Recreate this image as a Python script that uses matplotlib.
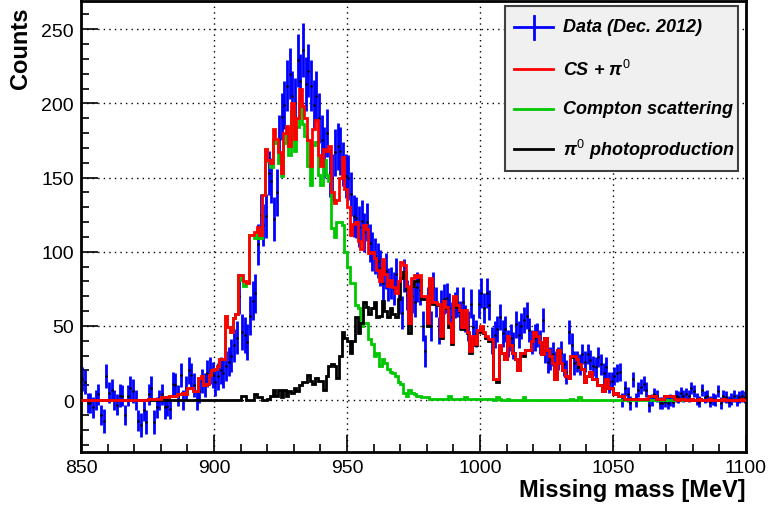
import numpy as np
import matplotlib
matplotlib.use('Agg')
import matplotlib.pyplot as plt
from matplotlib.lines import Line2D
from matplotlib.patches import Rectangle
from matplotlib.ticker import MultipleLocator

plt.rcParams['font.family'] = ['Liberation Sans', 'DejaVu Sans']
plt.rcParams['mathtext.fontset'] = 'custom'
plt.rcParams['mathtext.rm'] = 'Liberation Sans'
plt.rcParams['mathtext.it'] = 'Liberation Sans:italic:bold'
plt.rcParams['mathtext.bf'] = 'Liberation Sans:bold'

# 1 MeV bins from 850 to 1100 MeV
bin_edges = np.arange(850, 1101, 1)

# measured spectrum (background subtracted) and its errors
data_counts = [
    14, 12, -2, -2, -5, 0, 4, -10, -14, 16, 5, 7, 0, -3, 3, 3, -10, 3, 8, 6,
    0, -14, -17, -7, -15, 4, 8, -15, -5, 0, 4, -5, -4, -6, 11, 10, 3, 17, 0, 8,
    20, 17, 10, 0, 6, 13, 10, 18, 20, 17, 12,
    16, 20, 18, 23, 26, 30, 37, 42, 70, 46, 44, 39, 57, 67, 72, 105, 125, 118, 124, 153,
    148, 122, 140, 176,
    191, 199, 212, 220, 205, 200, 229, 215, 236, 213, 222, 212, 199, 205, 190, 175, 167, 180, 153, 150,
    167, 171, 168, 159, 151, 150, 139, 124, 123, 117, 121, 113, 120, 106, 100, 97, 94, 89, 79, 87,
    78, 79, 75,
    85, 69, 59, 84, 71, 61, 70, 66, 76, 74, 50, 33, 66, 50, 76, 66, 47, 64, 68, 69,
    62, 56, 64, 66, 57, 66, 55, 50, 65, 49, 45, 65, 72, 62,
    72, 64, 40, 44, 48, 56, 45, 48, 38, 42, 37, 51, 44, 50, 54, 57, 47, 39, 42, 44,
    39, 54, 33, 26, 28, 31, 25, 28, 32, 24, 19, 46, 37, 25, 26, 24, 31, 26, 31, 27,
    23, 22, 29, 24, 18,
    22, 12, 13, 16, 18, 19, 0, 8, 4, -2, 14, 0, 7, 9, 11, 7, -3, 0, 4, 3,
    -2, -2, -1, -2, 0, -1, 3, 2, 5, 3, 4, 3, 8, 6, 1, -1, 7, 2, 3, -1,
    1, 0, 6, -2, 3, 2, -1, 1, 3, 0, 2, 3, 2,
]
data_errors = [
    8, 8, 7, 7, 7, 7, 7, 7, 8, 8, 7, 7, 7, 7, 8, 7, 7, 7, 8, 8,
    7, 7, 8, 7, 8, 7, 8, 8, 7, 7, 7, 8, 7, 7, 8, 8, 7, 8, 7, 8,
    9, 8, 8, 7, 8, 8, 8, 9, 9, 9, 9,
    9, 9, 10, 10, 10, 11, 11, 11, 12, 12, 12, 12, 13, 13, 13,
    14, 14, 14, 15, 15, 15, 15, 16, 16, 16, 16, 17, 17, 17, 17,
    18, 18, 18, 18, 18, 17, 17, 17, 17, 17, 17, 16, 16, 16, 16, 16, 16, 15, 15, 15,
    15, 14, 14, 14, 14, 13, 13, 13, 13, 12, 12, 12, 12, 12, 11, 11, 11,
    11, 11, 11, 11, 10, 10, 11, 10, 10, 10, 10, 11, 10, 10, 10, 10, 9, 10, 10, 10,
    10, 10, 9, 10, 10, 10, 9, 10, 10, 9, 9, 10, 10,
    10, 10, 10, 9, 9, 9, 9, 9, 9, 9, 9, 9, 9, 9, 9, 9, 9, 8, 8, 9,
    8, 8, 8, 8, 8, 8, 8, 8, 8, 8, 8, 8, 8, 8, 8, 7, 7, 7, 7, 7,
    7, 7, 7, 7, 7, 7,
    7, 7, 6, 6, 6, 6, 5, 5, 5, 5, 5, 5, 5, 5, 5, 5, 5, 4, 4, 4,
    4, 4, 4, 4, 4, 4, 4, 4, 4, 4, 4, 4, 4, 4, 4, 4, 4, 4, 4, 4,
    4, 4, 4, 4, 4, 4, 4, 4, 4, 4, 4, 4, 4,
]

# simulated Compton scattering
cs_counts = [
    0, 0, 0, 0, 0, 0, 0, 0, 0, 0, 0, 0, 0, 0, 0, 0, 0, 0, 0, 0, 0, 0, 0, 0, 0,
    1, 1, 1, 1, 1, 2, 2, 2, 3, 3, 3, 4, 4, 5, 4, 8, 8, 6, 6, 15, 16, 10, 11, 17, 20,
    21, 23, 28, 28, 57, 49, 46, 55, 58, 84, 81, 77, 79, 111, 111, 109, 115, 109, 138, 169,
    161, 157, 176, 173, 160, 151, 173, 182, 165, 195, 168,
    184, 200, 186, 178, 158, 145, 172, 174, 152, 145, 162, 152, 148, 116, 110, 120, 120, 118, 100, 90,
    79, 79, 64, 62, 50, 52, 52, 41, 38, 30, 32, 23, 28, 25, 21, 19, 18,
    16, 12, 11, 5, 3, 7, 5, 4, 3, 3, 2, 2, 2, 1, 1, 1, 1, 1, 1, 1,
    3, 1, 1, 1, 1, 1, 2, 1, 1, 1, 1, 1, 1, 1, 1, 1, 1,
    0, 2, 1, 0, 0, 1, 0, 0, 0, 0, 0, 2, 0, 0, 0, 0, 0, 0, 0, 0,
    0, 0, 0, 0, 0, 0, 0, 0, 0, 1, 0, 0, 2, 0, 0, 0, 0, 0, 0, 0,
    0, 0, 0, 0, 0, 0, 0, 0, 0,
    0, 0, 0, 0, 0, 0, 0, 0, 0, 0, 0, 0, 0, 0, 0, 0, 0, 0, 0, 0, 0, 0, 0,
    0, 0, 0, 0, 0, 0, 0, 0, 0, 0, 0, 0, 0, 0, 0, 0, 0, 0, 0, 0, 0, 0, 0,
]

# simulated pi0 photoproduction
pi0_counts = [
    0, 0, 0, 0, 0, 0, 0, 0, 0, 0, 0, 0, 0, 0, 0, 0, 0, 0, 0, 0, 0, 0, 0, 0, 0,
    0, 0, 0, 0, 0, 0, 0, 0, 0, 0, 0, 0, 0, 0, 0, 0, 0, 0, 0, 0, 0, 0, 0, 0, 0,
    0, 0, 0, 0, 0, 0, 0, 0, 0, 0, 3, 3, 0, 0, 0, 4, 2, 2, 0, 0,
    1, 3, 7, 3, 7, 2, 7, 3, 6, 5, 8,
    6, 10, 12, 12, 17, 13, 11, 15, 13, 13, 7, 16, 23, 24, 23, 15, 30, 46, 42, 40,
    32, 40, 56, 45, 52, 66, 63, 58, 62, 66, 56, 57, 67, 60, 56, 62, 58,
    56, 68, 82, 86, 74, 45, 77, 80, 80, 81, 68, 68, 50, 81, 65, 65, 64, 42, 66, 62,
    49, 38, 69, 63, 60, 48, 59, 45, 32, 42, 37, 46, 49, 45, 42, 40, 40,
    14, 12, 36, 32, 28, 42, 37, 32, 28, 20, 32, 30, 34, 34, 40, 46, 43, 39, 31, 42,
    34, 30, 25, 14, 34, 25, 20, 16, 15, 29, 30, 28, 22, 21, 12, 16, 19, 14, 14, 10,
    10, 6, 14, 8, 8, 4, 5, 3, 3,
    1, 1, 1, 1, 1, 1, 1, 1, 1, 3, 3, 3, 1, 1, 1, 3, 3, 3, 3,
    1, 0, 1, 1, 0, 0, 1, 0, 0, 1, 0, 0, 0, 1, 0, 0, 0, 0, 1, 0, 0, 0, 0, 0, 0, 1, 0,
]

# sum CS + pi0
sum_counts = [
    0, 0, 0, 0, 0, 0, 0, 0, 0, 0, 0, 0, 0, 0, 0, 0, 0, 0, 0, 0, 0, 0, 0, 0, 0,
    1, 1, 1, 1, 1, 2, 2, 2, 3, 3, 3, 4, 4, 5, 4, 8, 8, 6, 6, 15, 16, 10, 11, 17, 20,
    21, 23, 28, 28, 57, 49, 46, 55, 58, 84, 84, 80, 79, 111, 111, 113, 117, 111, 138, 169,
    162, 160, 183, 176, 167, 153, 180, 185, 171, 200, 176,
    190, 210, 198, 190, 175, 158, 183, 189, 165, 158, 169, 168, 171, 140, 133, 135, 150, 164, 142, 130,
    111, 119, 120, 107, 102, 118, 115, 99, 100, 96, 88, 80, 95, 85, 77, 81, 76,
    72, 80, 93, 91, 77, 52, 82, 84, 83, 84, 70, 70, 52, 82, 66, 66, 65, 43, 67, 63,
    52, 39, 70, 64, 61, 49, 61, 46, 33, 43, 38, 47, 50, 46, 43, 41, 41,
    14, 14, 37, 32, 28, 43, 37, 32, 28, 20, 32, 32, 34, 34, 40, 46, 43, 39, 31, 42,
    34, 30, 25, 14, 34, 25, 20, 16, 15, 30, 30, 28, 24, 21, 12, 16, 19, 14, 14, 10,
    10, 6, 14, 8, 8, 4, 5, 3, 3,
    1, 1, 1, 1, 1, 1, 1, 1, 1, 3, 3, 3, 1, 1, 1, 3, 3, 3, 3,
    1, 0, 1, 1, 0, 0, 1, 0, 0, 1, 0, 0, 0, 1, 0, 0, 0, 0, 1, 0, 0, 0, 0, 0, 0, 1, 0,
]

legend_labels = ['Data (Dec. 2012)', r'CS + $\pi^{0}$', 'Compton scattering', r'$\pi^{0}$ photoproduction']

W, H = 770, 510
fig = plt.figure(figsize=(W / 100, H / 100), dpi=100)
ax = fig.add_axes([81 / W, 57 / H, 665 / W, 451 / H])

centers = 0.5 * (bin_edges[:-1] + bin_edges[1:])
ax.errorbar(centers, data_counts, yerr=data_errors, fmt='none', ecolor='#0000ff',
            elinewidth=2.0, capsize=0, zorder=2)
ax.plot(centers, data_counts, ls='none', marker='s', ms=0.8, color='black', zorder=2.5)

ax.stairs(cs_counts, bin_edges, color='#00c800', lw=2, baseline=None, zorder=3)
ax.stairs(pi0_counts, bin_edges, color='black', lw=2, baseline=None, zorder=4)
ax.stairs(sum_counts, bin_edges, color='#ff0000', lw=2, baseline=None, zorder=5)

ax.set_xlim(850, 1100)
ax.set_ylim(-35, 269)
ax.xaxis.set_major_locator(MultipleLocator(50))
ax.xaxis.set_minor_locator(MultipleLocator(10))
ax.yaxis.set_major_locator(MultipleLocator(50))
ax.yaxis.set_minor_locator(MultipleLocator(10))
ax.tick_params(which='both', direction='in', top=False, right=False, width=1.2, labelsize=14)
ax.tick_params(which='major', length=12)
ax.tick_params(which='minor', length=6)
ax.tick_params(axis='x', pad=5)
ax.tick_params(axis='y', pad=5)
ax.set_axisbelow(True)
ax.grid(True, which='major', color='black', linestyle=(0, (1, 3)), lw=1)
for s in ax.spines.values():
    s.set_linewidth(2)

fig.text(20 / W, 1 - 8 / H, 'Counts', rotation=90, ha='center', va='top',
         fontsize=17, fontweight='bold')
fig.text(746 / W, 1 - 491 / H, 'Missing mass [MeV]', ha='right', va='center',
         fontsize=17, fontweight='bold')

# legend box
fig.add_artist(Rectangle((505 / W, 1 - 172 / H), 233 / W, 165 / H, transform=fig.transFigure,
                         facecolor='#f0f0f0', edgecolor='#404040', lw=1.5, zorder=10))
rows = [28, 70, 110, 150]
colors = ['#0000ff', '#ff0000', '#00c800', 'black']
for y, c, lab in zip(rows, colors, legend_labels):
    fig.add_artist(Line2D([514 / W, 553 / W], [1 - y / H, 1 - y / H], color=c, lw=2,
                          transform=fig.transFigure, zorder=11))
    fig.text(563 / W, 1 - y / H, lab, ha='left', va='center', fontsize=13,
             fontweight='bold', fontstyle='italic', zorder=12)
fig.add_artist(Line2D([533.5 / W, 533.5 / W], [1 - 17 / H, 1 - 40 / H], color='#0000ff', lw=2,
                      transform=fig.transFigure, zorder=11))

fig.savefig('out.png', dpi=100)
